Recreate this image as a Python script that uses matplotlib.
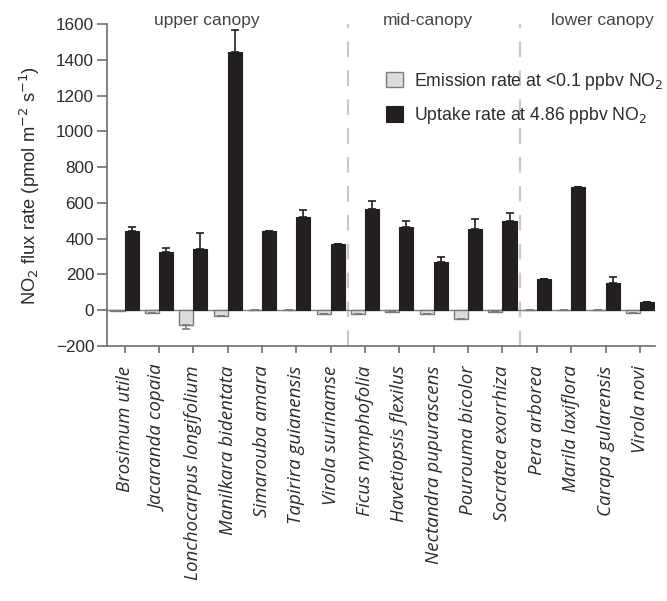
import matplotlib
matplotlib.use("Agg")
import matplotlib.pyplot as plt
import numpy as np

# species, grouped by canopy position
species = ['Brosimum utile', 'Jacaranda copaia', 'Lonchocarpus longifolium',
           'Manilkara bidentata', 'Simarouba amara', 'Tapirira guianensis',
           'Virola surinamse', 'Ficus nymphofolia', 'Havetiopsis flexilus',
           'Nectandra pupurascens', 'Pourouma bicolor', 'Socratea exorrhiza',
           'Pera arborea', 'Marila laxiflora', 'Carapa gularensis', 'Virola novi']

# emission at <0.1 ppbv NO2 (negative = release)
emission = [-2, -15, -82, -33, 0, 0, -20, -20, -8, -20, -48, -8, 0, 0, 0, -15]
emission_err = [0, 0, 25, 0, 0, 0, 0, 0, 0, 0, 0, 0, 0, 0, 0, 0]

# uptake at 4.86 ppbv NO2
uptake = [441, 324, 342, 1443, 441, 520, 372, 567, 468, 271, 455, 501, 174, 688, 150, 47]
uptake_err = [23, 24, 90, 121, 0, 38, 0, 41, 33, 25, 56, 42, 0, 0, 33, 0]

group_names = ['upper canopy', 'mid-canopy', 'lower canopy']
group_centers = [2.4, 8.83, 13.9]
group_bounds = [6.5, 11.5]

plt.rcParams['font.family'] = ['Liberation Sans', 'DejaVu Sans']
axis_grey = '#6e6e6e'
text_col = '#2b2b2b'

fig = plt.figure(figsize=(6.67, 6.01), dpi=100)
ax = fig.add_axes([0.160, 0.4243, 0.822, 0.5357])

x = np.arange(len(species))
w = 0.41

ax.bar(x - w / 2, emission, width=w, color='#dcdcdc', edgecolor='#7a7a7a', linewidth=1.0,
       yerr=[emission_err, np.zeros(len(x))], error_kw=dict(ecolor='#7a7a7a', elinewidth=1.2, capsize=3, capthick=1.2),
       label='Emission rate at <0.1 ppbv NO$_2$', zorder=3)
ax.bar(x + w / 2, uptake, width=w, color='#231f20', edgecolor='#231f20', linewidth=0.8,
       yerr=[np.zeros(len(x)), uptake_err], error_kw=dict(ecolor='#231f20', elinewidth=1.2, capsize=3, capthick=1.2),
       label='Uptake rate at 4.86 ppbv NO$_2$', zorder=3)

# zero line and canopy dividers
ax.axhline(0, color='#808080', linewidth=1.0, zorder=2)
for b in group_bounds:
    ax.axvline(b, color='#c8c8c8', linewidth=1.6, linestyle=(0, (7, 6)), zorder=1)

ax.set_xlim(-0.52, 15.44)
ax.set_ylim(-200, 1600)
ax.set_yticks(np.arange(-200, 1601, 200))

ax.set_xticks(x)
ax.set_xticklabels(species, rotation=90, fontstyle='italic', fontsize=13.5,
                   family=['Open Sans', 'DejaVu Sans'], color=text_col)

for side in ['top', 'right']:
    ax.spines[side].set_visible(False)
for side in ['left', 'bottom']:
    ax.spines[side].set_color(axis_grey)
    ax.spines[side].set_linewidth(1.2)
ax.tick_params(axis='both', colors=axis_grey, width=1.2, labelcolor=text_col)
ax.tick_params(axis='x', length=5, pad=9)
ax.tick_params(axis='y', length=7, pad=2, labelsize=12.3)

ax.set_ylabel('NO$_2$ flux rate (pmol m$^{-2}$ s$^{-1}$)', fontsize=13.2, color=text_col, labelpad=10)

# canopy labels across the top
for c, name in zip(group_centers, group_names):
    ax.text(c, 1622, name, ha='center', va='center', fontsize=12.5, color='#444444')

ax.legend(loc='upper left', bbox_to_anchor=(0.48, 0.905), frameon=False, fontsize=12.7,
          handlelength=1.0, handleheight=1.0, labelspacing=0.75, handletextpad=0.6,
          labelcolor=text_col)

fig.savefig('out.png', dpi=100)
